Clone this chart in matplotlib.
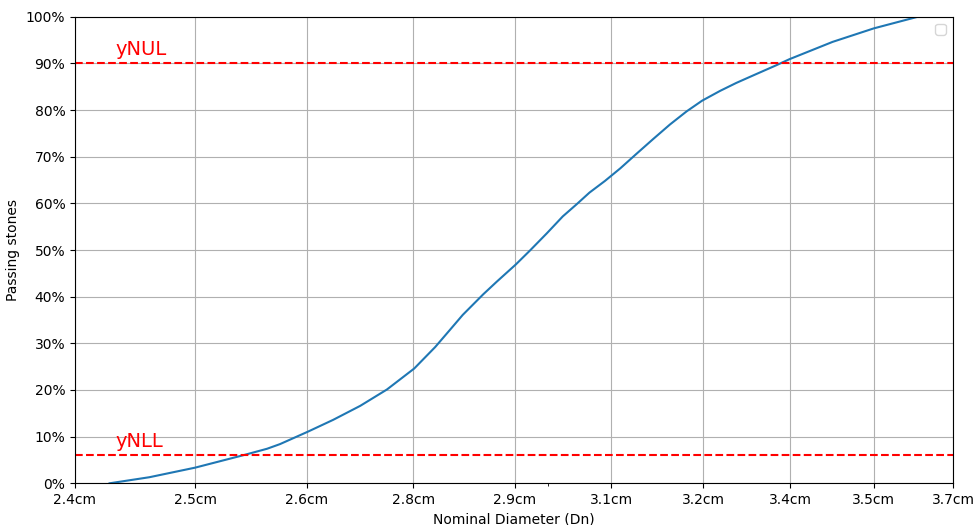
import matplotlib
matplotlib.use("Agg")
import matplotlib.pyplot as plt
from matplotlib.ticker import PercentFormatter, NullFormatter, FixedLocator

# underlying (log-scaled) x variable for the ticks and their labels
tick_values = [15.53, 16.56, 17.58, 18.61, 19.65, 20.69, 21.73, 22.77, 23.81, 24.84]
tick_labels = ["2.4cm", "2.5cm", "2.6cm", "2.8cm", "2.9cm",
               "3.1cm", "3.2cm", "3.4cm", "3.5cm", "3.7cm"]
minor_tick_values = [20.0]

# grading curve
curve_x = [15.82, 16.16, 16.56, 16.99, 17.21, 17.33, 17.59, 17.83, 18.09, 18.35,
           18.62, 18.83, 18.98, 19.11, 19.32, 19.46, 19.66, 19.81, 19.99, 20.16,
           20.31, 20.45, 20.62, 20.79, 20.97, 21.16, 21.35, 21.54, 21.72, 21.93,
           22.12, 22.32, 22.60, 22.76, 23.29, 23.81, 24.38, 24.84]
curve_y = [0.0, 0.013, 0.0335, 0.060, 0.074, 0.084, 0.1106, 0.136, 0.166, 0.201,
           0.246, 0.292, 0.329, 0.361, 0.405, 0.432, 0.469, 0.499, 0.536, 0.572,
           0.598, 0.623, 0.648, 0.675, 0.706, 0.738, 0.769, 0.797, 0.820, 0.841,
           0.858, 0.874, 0.896, 0.909, 0.946, 0.975, 1.0, 1.01]

y_nul = 0.90
y_nll = 0.06

fig = plt.figure(figsize=(9.73, 5.25), dpi=100)
ax = fig.add_axes([75/973, 1-483.3/525, (953-75)/973, (483.3-16.7)/525])

ax.plot(curve_x, curve_y, color="#1f77b4", lw=1.5)
ax.axhline(y_nul, color="red", ls="--", lw=1.5)
ax.axhline(y_nll, color="red", ls="--", lw=1.5)
ax.text(15.87, y_nul + 0.018, "yNUL", color="red", fontsize=14)
ax.text(15.87, y_nll + 0.018, "yNLL", color="red", fontsize=14)

ax.set_xscale("log")
ax.set_xlim(tick_values[0], tick_values[-1])
ax.xaxis.set_major_locator(FixedLocator(tick_values))
ax.set_xticklabels(tick_labels)
ax.xaxis.set_minor_locator(FixedLocator(minor_tick_values))
ax.xaxis.set_minor_formatter(NullFormatter())
ax.set_ylim(0, 1)
ax.set_yticks([i / 10 for i in range(11)])
ax.yaxis.set_major_formatter(PercentFormatter(1.0, decimals=0))
ax.grid(True)
ax.set_xlabel("Nominal Diameter (Dn)")
ax.set_ylabel("Passing stones")
ax.legend(loc="upper right")

fig.savefig("out.png", dpi=100)
